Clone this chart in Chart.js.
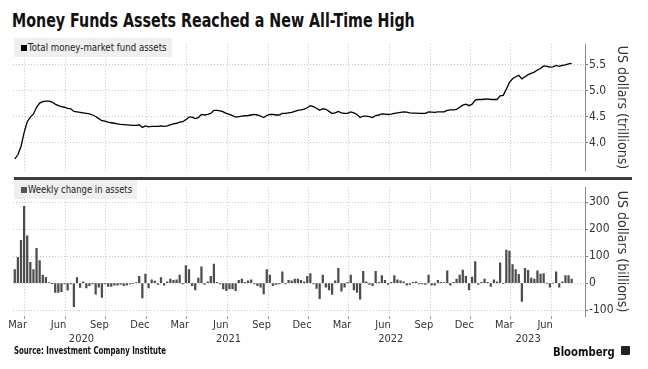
<!DOCTYPE html>
<html>
<head>
<meta charset="utf-8">
<script src="https://cdn.jsdelivr.net/npm/chart.js@4.4.1/dist/chart.umd.min.js"></script>
<style>
  html, body { margin: 0; padding: 0; background: #fff; }
  #wrap { position: relative; width: 648px; height: 369px; overflow: hidden;
    font-family: 'Liberation Sans Narrow', 'DejaVu Sans Condensed', Roboto, sans-serif; color: #111; }
  #title { position: absolute; left: 12px; top: 9px; font-size: 19px; font-weight: bold;
    white-space: nowrap; transform-origin: 0 0; }
  canvas { position: absolute; left: 0; }
  #topChart { top: 36px; }
  #botChart { top: 179px; }
  .legend { position: absolute; left: 14px; height: 19px; background: #efefef; }
  .legend span { position: absolute; left: 14px; top: 0; font-size: 11px; line-height: 19px;
    white-space: nowrap; color: #222; transform-origin: 0 0; }
  .legend i { position: absolute; left: 7px; top: 7px; width: 6px; height: 6px; }
  #sep { position: absolute; left: 14px; top: 177px; width: 618px; height: 3px; background: #3d3d3d; }
  #source { position: absolute; left: 14px; top: 345px; font-size: 10px; font-weight: bold;
    white-space: nowrap; transform-origin: 0 0; }
  #brand { position: absolute; left: 553px; top: 344px; font-size: 13px; font-weight: bold;
    white-space: nowrap; transform-origin: 0 0; }
  #logo { position: absolute; left: 621px; top: 346px; width: 9px; height: 9px; background: #222; border-radius: 1px; }
</style>
</head>
<body>
<div id="wrap">
  <div id="title">Money Funds Assets Reached a New All-Time High</div>
  <canvas id="topChart" width="648" height="143"></canvas>
  <canvas id="botChart" width="648" height="190"></canvas>
  <div id="sep"></div>
  <div class="legend" style="top:38px;width:158px"><i style="background:#000"></i><span id="leg1">Total money-market fund assets</span></div>
  <div class="legend" style="top:180px;width:123px"><i style="background:#555"></i><span id="leg2">Weekly change in assets</span></div>
  <div id="source">Source: Investment Company Institute</div>
  <div id="brand">Bloomberg</div>
  <div id="logo"></div>
</div>
<script>
const FONT = "'Liberation Sans Narrow', 'DejaVu Sans Condensed', Roboto, sans-serif";

// weekly data, first week 2020-02-09
const firstWeek = "2020-02-09";

// total money-market fund assets, US$ trillions
const assets = [
  3.68, 3.76, 3.92, 4.19, 4.40, 4.49, 4.55, 4.68, 4.76, 4.79,
  4.80, 4.80, 4.78, 4.74, 4.71, 4.69, 4.68, 4.66, 4.65, 4.60,
  4.59, 4.58, 4.57, 4.56, 4.55, 4.53, 4.50, 4.46, 4.42, 4.41,
  4.39, 4.38, 4.37, 4.36, 4.35, 4.345, 4.34, 4.335, 4.33, 4.33,
  4.34, 4.29, 4.32, 4.30, 4.31, 4.31, 4.31, 4.32, 4.31, 4.32,
  4.34, 4.36, 4.37, 4.39, 4.40, 4.44, 4.49, 4.49, 4.46, 4.48,
  4.54, 4.53, 4.54, 4.56, 4.62, 4.62, 4.61, 4.59, 4.56, 4.54,
  4.52, 4.49, 4.50, 4.51, 4.515, 4.52, 4.53, 4.54, 4.53, 4.51,
  4.48, 4.52, 4.54, 4.54, 4.53, 4.53, 4.56, 4.56, 4.57, 4.58,
  4.60, 4.62, 4.63, 4.645, 4.67, 4.71, 4.69, 4.66, 4.62, 4.65,
  4.64, 4.60, 4.56, 4.57, 4.60, 4.57, 4.56, 4.56, 4.59, 4.57,
  4.54, 4.48, 4.51, 4.51, 4.50, 4.48, 4.52, 4.53, 4.55, 4.545,
  4.54, 4.545, 4.56, 4.57, 4.58, 4.59, 4.585, 4.57, 4.565, 4.565,
  4.56, 4.56, 4.56, 4.59, 4.585, 4.58, 4.59, 4.59, 4.59, 4.62,
  4.63, 4.63, 4.64, 4.68, 4.72, 4.74, 4.71, 4.74, 4.82, 4.83,
  4.83, 4.835, 4.84, 4.83, 4.83, 4.83, 4.90, 4.91, 5.03, 5.16,
  5.23, 5.27, 5.30, 5.23, 5.27, 5.31, 5.335, 5.36, 5.40, 5.43,
  5.48, 5.47, 5.455, 5.46, 5.49, 5.47, 5.49, 5.50, 5.52, 5.53
];

// weekly change in assets, US$ billions
const weeklyChange = [
  50, 95, 158, 284, 175, 77, 50, 129, 83, 30,
  21, 2, -1, -35, -35, -32, -3, -26, -3, -87,
  20, -16, 5, -18, -10, -3, -41, -15, -53, -3,
  -12, -12, -8, -8, -5, -10, -8, -3, -2, 2,
  25, -55, 33, -18, 12, 7, -5, 20, -8, 5,
  15, 10, 12, 30, -3, 65, 50, -10, -25, 18,
  60, -5, 5, 25, 70, 3, -3, -22, -28, -22,
  -22, -28, 10, 15, 3, 8, 12, -3, -10, -15,
  -40, 50, 30, -10, -5, -3, 42, -3, 10, 8,
  15, 15, 10, 5, 25, 35, -3, -20, -58, 30,
  -15, -25, -42, 8, 55, -30, -15, 3, 30, -25,
  -35, -60, 43, 5, -5, -10, 43, 3, 28, 10,
  -5, 3, 28, 12, 8, 5, -8, -5, 3, 5,
  -3, -3, -5, 30, -8, -8, 10, 3, 1, 45,
  -8, 3, 15, 30, 48, 25, -25, 22, 80, -5,
  3, 15, 3, -12, 12, 5, 75, -2, 122, 118,
  68, 50, 32, -68, 55, 47, 18, 15, 45, 33,
  35, 0, -15, 0, 42, -15, 5, 28, 28, 15
];

const tickDates = ["2020-03-01", "2020-06-01", "2020-09-01", "2020-12-01",
  "2021-03-01", "2021-06-01", "2021-09-01", "2021-12-01",
  "2022-03-01", "2022-06-01", "2022-09-01", "2022-12-01",
  "2023-03-01", "2023-06-01"];
const tickLabels = ["Mar", "Jun", "Sep", "Dec", "Mar", "Jun", "Sep", "Dec",
  "Mar", "Jun", "Sep", "Dec", "Mar", "Jun"];
const yearLabels = ["2020", "2021", "2022", "2023"];
const yearLabelAt = ["2020-07-08", "2021-06-04", "2022-06-04", "2023-04-09"];
const assetTicks = [4.0, 4.5, 5.0, 5.5];
const changeTicks = [-100, 0, 100, 200, 300];

const dayNum = s => Date.parse(s + "T00:00:00Z") / 864e5;
const weekDay = i => dayNum(firstWeek) + 7 * i;
const xMin = dayNum("2020-02-05");
const xMax = dayNum("2023-08-15");
const tickDays = tickDates.map(dayNum);

const gridColor = "#c8c8c8";

function xScale(showLabels) {
  return {
    type: "linear", min: xMin, max: xMax, offset: false,
    afterBuildTicks: s => { s.ticks = tickDays.map(v => ({ value: v })); },
    ticks: {
      display: showLabels, autoSkip: false, maxRotation: 0, padding: 0, labelOffset: -6.5,
      color: "#333", font: { family: FONT, size: 11 },
      callback: (v, i) => tickLabels[i]
    },
    grid: { offset: false, color: gridColor, drawTicks: showLabels, tickLength: 3, tickColor: "#999", tickBorderDash: [] },
    border: { display: false, dash: [1, 2] },
    afterFit: s => { s.height = showLabels ? 53 : 0; }
  };
}

function yScale(min, max, ticks, fmt, title) {
  return {
    position: "right", min: min, max: max,
    afterBuildTicks: s => { s.ticks = ticks.map(v => ({ value: v })); },
    ticks: { padding: 1, color: "#333", font: { family: FONT, size: 12 }, callback: fmt },
    grid: { color: gridColor, tickLength: 3, tickColor: "#777", tickBorderDash: [] },
    border: { display: true, color: "#888", width: 1, dash: [1, 2] },
    title: { display: true, text: title, color: "#333", font: { family: FONT, size: 14 }, padding: { top: 18, bottom: 0 } },
    afterFit: s => { s.width = 63; }
  };
}

const yearLabelPlugin = {
  id: "yearLabels",
  afterDraw(chart) {
    const { ctx } = chart;
    const x = chart.scales.x;
    ctx.save();
    ctx.font = "11px " + FONT;
    ctx.fillStyle = "#333";
    ctx.textAlign = "center";
    ctx.textBaseline = "middle";
    yearLabels.forEach((t, k) => {
      ctx.fillText(t, x.getPixelForValue(dayNum(yearLabelAt[k])), x.top + 23);
    });
    ctx.restore();
  }
};

new Chart(document.getElementById("topChart"), {
  type: "line",
  data: {
    datasets: [{
      data: assets.map((v, i) => ({ x: weekDay(i), y: v })),
      borderColor: "#000", borderWidth: 1.3, pointRadius: 0, tension: 0
    }]
  },
  options: {
    responsive: false, animation: false, devicePixelRatio: 1,
    layout: { padding: { left: 13, top: 2, right: 0, bottom: 2 } },
    plugins: { legend: { display: false }, tooltip: { enabled: false } },
    scales: {
      x: xScale(false),
      y: yScale(3.45, 5.9, assetTicks, v => v.toFixed(1), "US dollars (trillions)")
    }
  }
});

new Chart(document.getElementById("botChart"), {
  type: "bar",
  data: {
    datasets: [{
      data: weeklyChange.map((v, i) => ({ x: weekDay(i), y: v })),
      backgroundColor: "#4d4d4d", barThickness: 1.6
    }]
  },
  options: {
    responsive: false, animation: false, devicePixelRatio: 1,
    layout: { padding: { left: 13, top: 1, right: 0, bottom: 0 } },
    plugins: { legend: { display: false }, tooltip: { enabled: false } },
    scales: {
      x: xScale(true),
      y: yScale(-122, 355, changeTicks, v => String(v), "US dollars (billions)")
    }
  },
  plugins: [yearLabelPlugin]
});

function fitWidth(id, w) {
  const el = document.getElementById(id);
  el.style.transform = "scaleX(" + (w / el.offsetWidth) + ")";
}
fitWidth("title", 403);
fitWidth("source", 152);
fitWidth("brand", 62);
fitWidth("leg1", 139);
fitWidth("leg2", 104);
</script>
</body>
</html>
